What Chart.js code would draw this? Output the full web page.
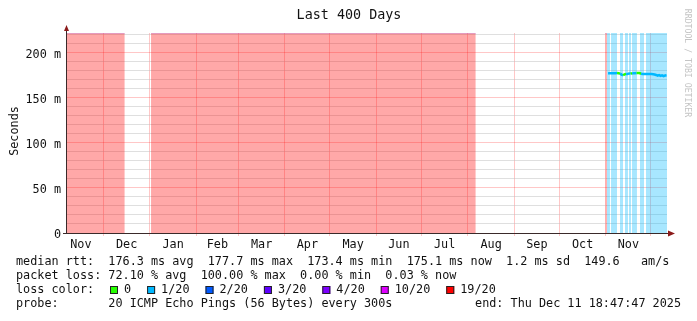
<!DOCTYPE html>
<html>
<head>
<meta charset="utf-8">
<script src="https://cdn.jsdelivr.net/npm/chart.js@4/dist/chart.umd.min.js"></script>
<style>
  html, body { margin: 0; padding: 0; background: #fff; }
</style>
</head>
<body>
<canvas id="chart-ping" width="697" height="321"></canvas>
<script>
// graph window: the last 400 days up to the end stamp
var endTime = '2025-12-11T18:47:47';
var spanDays = 400;

// loss periods, packets lost out of 20
var lossFrom  = ['2024-11-06T18:47', '2025-01-01T19:00', '2025-10-31T17:00', '2025-11-01T18:00',
                 '2025-11-04T11:00', '2025-11-10T11:00', '2025-11-13T18:00', '2025-11-16T11:00',
                 '2025-11-18T11:00', '2025-11-23T18:00', '2025-11-27T18:00'];
var lossTo    = ['2024-12-15T07:00', '2025-08-06T07:00', '2025-11-01T18:00', '2025-11-03T18:00',
                 '2025-11-08T11:00', '2025-11-12T11:00', '2025-11-15T18:00', '2025-11-17T18:00',
                 '2025-11-21T18:00', '2025-11-26T11:00', '2025-12-11T18:47'];
var lossCount = [20, 20, 19, 1, 1, 1, 1, 1, 1, 1, 1];

// median rtt per day (ms) and the loss seen that day
var rttDays = ['2025-11-02', '2025-11-03', '2025-11-04', '2025-11-05', '2025-11-06', '2025-11-07',
               '2025-11-08', '2025-11-09', '2025-11-10', '2025-11-11', '2025-11-12', '2025-11-13',
               '2025-11-14', '2025-11-15', '2025-11-16', '2025-11-17', '2025-11-18', '2025-11-19',
               '2025-11-20', '2025-11-21', '2025-11-22', '2025-11-23', '2025-11-24', '2025-11-25',
               '2025-11-26', '2025-11-27', '2025-11-28', '2025-11-29', '2025-11-30', '2025-12-01',
               '2025-12-02', '2025-12-03', '2025-12-04', '2025-12-05', '2025-12-06', '2025-12-07',
               '2025-12-08', '2025-12-09', '2025-12-10', '2025-12-11'];
var rttMs   = [177.3, 177.2, 177.3, 177.2, 177.4, 177.3, 177.5, 177.4, 176.9, 175.8, 175.1, 176.0,
               176.6, 176.4, 177.1, 176.9, 177.4, 177.2, 177.3, 177.6, 177.7, 177.5, 176.7, 176.5,
               176.6, 176.5, 176.6, 176.4, 176.5, 176.4, 176.3, 175.9, 175.4, 174.6, 175.2, 174.4,
               175.0, 174.2, 174.8, 175.1];
var rttLoss = [1, 1, 1, 1, 1, 1, 0, 0, 1, 1, 0, 0,
               1, 1, 1, 0, 1, 1, 1, 0, 0, 0, 1, 1,
               1, 1, 1, 1, 1, 1, 1, 1, 1, 1, 1, 1,
               1, 1, 1, 1];

// loss colour legend
var lossSteps  = [0, 1, 2, 3, 4, 10, 19];
var lossLabels = ['0', '1/20', '2/20', '3/20', '4/20', '10/20', '19/20'];
var lossColors = ['#26ff00', '#00b8ff', '#0059ff', '#5e00ff', '#7e00ff', '#dd00ff', '#ff0000'];

var monthNames = ['Jan', 'Feb', 'Mar', 'Apr', 'May', 'Jun', 'Jul', 'Aug', 'Sep', 'Oct', 'Nov', 'Dec'];
var yMax = 222;
var yLabelTicks = [0, 50, 100, 150, 200];

var legendLines = [
  'median rtt:  176.3 ms avg  177.7 ms max  173.4 ms min  175.1 ms now  1.2 ms sd  149.6   am/s',
  'packet loss: 72.10 % avg  100.00 % max  0.00 % min  0.03 % now',
  'loss color:',
  'probe:       20 ICMP Echo Pings (56 Bytes) every 300s'
];
var endLabel = 'end: Thu Dec 11 18:47:47 2025';

var MONO = "'DejaVu Sans Mono', monospace";
var endT = Date.parse(endTime + 'Z');
var startT = endT - spanDays * 86400000;

function dayOf(s) {
  if (s.length === 10) s += 'T12:00';
  return (Date.parse(s + 'Z') - startT) / 86400000;
}

function colorIndex(n) {
  var k = 0;
  lossSteps.forEach(function (st, i) { if (n >= st) k = i; });
  return k;
}

function withAlpha(hex, a) {
  var r = parseInt(hex.substr(1, 2), 16), g = parseInt(hex.substr(3, 2), 16), b = parseInt(hex.substr(5, 2), 16);
  return 'rgba(' + r + ',' + g + ',' + b + ',' + a + ')';
}

// month boundaries -> grid lines, month middles -> labels
var monthStarts = [], monthMids = {}, xTicks = [];
(function () {
  var d = new Date(startT);
  var y = d.getUTCFullYear(), m = d.getUTCMonth();
  for (var i = 0; i < 15; i++) {
    var s = (Date.UTC(y, m + i, 1) - startT) / 86400000;
    var e = (Date.UTC(y, m + i + 1, 1) - startT) / 86400000;
    if (s > 0 && s < spanDays) { monthStarts.push(s); xTicks.push(s); }
    var mid = (s + e) / 2;
    if (mid >= 0 && mid <= spanDays) {
      monthMids[mid.toFixed(4)] = monthNames[(m + i) % 12];
      xTicks.push(mid);
    }
  }
  xTicks.sort(function (a, b) { return a - b; });
})();

function isMonthStart(v) {
  return monthStarts.some(function (s) { return Math.abs(s - v) < 1e-6; });
}

function bandPoints(group) {
  var pts = [];
  lossFrom.forEach(function (f, i) {
    if (colorIndex(lossCount[i]) !== group) return;
    pts.push({ x: dayOf(f), y: yMax }, { x: dayOf(lossTo[i]), y: yMax }, { x: dayOf(lossTo[i]), y: null });
  });
  return pts;
}

var datasets = [{
  label: 'median rtt',
  order: 0,
  data: rttDays.map(function (d, i) { return { x: dayOf(d), y: rttMs[i] }; }),
  borderWidth: 2.5,
  pointRadius: 0,
  fill: false,
  borderColor: lossColors[1],
  segment: {
    borderColor: function (ctx) { return lossColors[colorIndex(rttLoss[ctx.p0DataIndex])]; }
  }
}];

lossColors.forEach(function (c, g) {
  var pts = bandPoints(g);
  if (!pts.length) return;
  datasets.push({
    label: 'loss ' + lossLabels[g],
    order: 1,
    data: pts,
    spanGaps: false,
    pointRadius: 0,
    borderWidth: g === 6 ? 1 : 0,
    borderColor: 'rgba(160,120,255,0.55)',
    backgroundColor: withAlpha(c, 0.34),
    fill: 'origin'
  });
});

var decor = {
  id: 'decor',
  afterDraw: function (chart) {
    var ctx = chart.ctx, a = chart.chartArea;
    ctx.save();
    // axes with arrows
    ctx.strokeStyle = '#3a2a2a';
    ctx.lineWidth = 1;
    ctx.beginPath();
    ctx.moveTo(a.left - 0.5, a.bottom + 0.5);
    ctx.lineTo(a.left - 0.5, a.top - 4);
    ctx.moveTo(a.left - 4, a.bottom + 0.5);
    ctx.lineTo(a.right + 4, a.bottom + 0.5);
    ctx.stroke();
    ctx.fillStyle = '#8b1a1a';
    ctx.beginPath();
    ctx.moveTo(a.left - 3, a.top - 2);
    ctx.lineTo(a.left + 2, a.top - 2);
    ctx.lineTo(a.left - 0.5, a.top - 8);
    ctx.closePath();
    ctx.fill();
    ctx.beginPath();
    ctx.moveTo(a.right + 1, a.bottom - 2.5);
    ctx.lineTo(a.right + 1, a.bottom + 3.5);
    ctx.lineTo(a.right + 8, a.bottom + 0.5);
    ctx.closePath();
    ctx.fill();

    // y tick labels, placed by the y scale
    var ys = chart.scales.y;
    ctx.fillStyle = '#111';
    ctx.textBaseline = 'middle';
    ctx.textAlign = 'right';
    ctx.font = '11.8px ' + MONO;
    yLabelTicks.forEach(function (v) {
      ctx.fillText(v === 0 ? '0' : v + ' m', a.left - 6, ys.getPixelForValue(v) + 2);
    });

    // title
    ctx.textAlign = 'center';
    ctx.font = '13.4px ' + MONO;
    ctx.fillText('Last 400 Days', 349, 16);

    // y title
    ctx.save();
    ctx.translate(15, 131);
    ctx.rotate(-Math.PI / 2);
    ctx.font = '11.8px ' + MONO;
    ctx.fillText('Seconds', 0, 0);
    ctx.restore();

    // watermark
    ctx.save();
    ctx.translate(687, 63);
    ctx.rotate(Math.PI / 2);
    ctx.fillStyle = '#c4c4c4';
    ctx.font = '8.2px ' + MONO;
    ctx.fillText('RRDTOOL / TOBI OETIKER', 0, 0);
    ctx.restore();

    // legend block
    ctx.textAlign = 'left';
    ctx.font = '11.8px ' + MONO;
    ctx.fillStyle = '#111';
    legendLines.forEach(function (t, i) {
      ctx.fillText(t, 16, 262 + i * 14);
    });
    ctx.textAlign = 'right';
    ctx.fillText(endLabel, 681, 304);
    ctx.textAlign = 'left';

    var x = 110, y = 290;
    lossLabels.forEach(function (lab, i) {
      ctx.fillStyle = lossColors[i];
      ctx.fillRect(x, y - 4, 8, 8);
      ctx.strokeStyle = '#222';
      ctx.strokeRect(x + 0.5, y - 3.5, 7, 7);
      ctx.fillStyle = '#111';
      ctx.fillText(lab, x + 14, y);
      x += 14 + ctx.measureText(lab).width + 16;
    });
    ctx.restore();
  }
};

Chart.defaults.font.family = MONO;
Chart.defaults.font.size = 11.8;
Chart.defaults.color = '#111';

new Chart('chart-ping', {
  type: 'line',
  data: { datasets: datasets },
  options: {
    responsive: false,
    animation: false,
    layout: { padding: { left: 0, top: 33, right: 30, bottom: 68 } },
    plugins: {
      legend: { display: false },
      tooltip: { enabled: false },
      title: { display: false }
    },
    scales: {
      x: {
        type: 'linear',
        min: 0,
        max: spanDays,
        afterBuildTicks: function (axis) {
          axis.ticks = xTicks.map(function (v) { return { value: v }; });
        },
        afterFit: function (axis) { axis.height = 20; },
        border: { display: false },
        grid: {
          color: function (c) { return c.tick && isMonthStart(c.tick.value) ? 'rgba(255,0,0,0.22)' : 'rgba(0,0,0,0)'; },
          tickLength: 3,
          drawTicks: true
        },
        ticks: {
          autoSkip: false,
          maxRotation: 0,
          padding: 2,
          callback: function (v) { return monthMids[Number(v).toFixed(4)] || ''; }
        }
      },
      y: {
        min: 0,
        max: yMax,
        afterFit: function (axis) { axis.width = 67; },
        border: { display: false },
        grid: {
          color: function (c) {
            if (!c.tick) return 'rgba(0,0,0,0)';
            return c.tick.value % 50 === 0 ? 'rgba(255,0,0,0.22)' : 'rgba(192,192,192,0.5)';
          },
          tickColor: function (c) { return c.tick && c.tick.value === 0 ? '#3a2a2a' : 'rgba(0,0,0,0)'; },
          tickLength: 3
        },
        ticks: {
          stepSize: 10,
          includeBounds: false,
          autoSkip: false,
          display: false
        }
      }
    }
  },
  plugins: [decor]
});
</script>
</body>
</html>
